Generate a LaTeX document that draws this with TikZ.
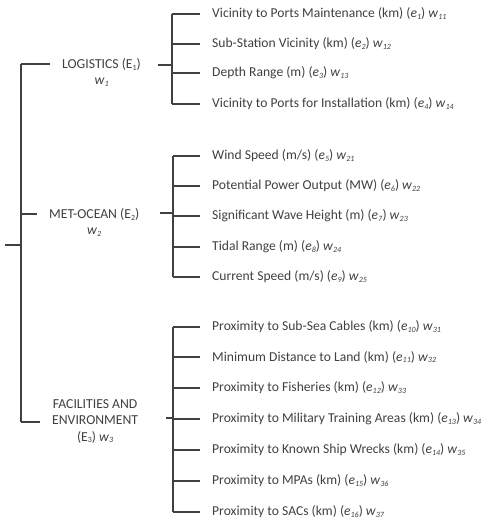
\documentclass[tikz,border=0pt]{standalone}
\usepackage{fontspec}
\setmainfont{Carlito}
\newcommand\mysb[1]{\raisebox{-1.6pt}{\fontsize{8}{8}\selectfont #1}}
\newcommand\ie[1]{(\textit{e}\mysb{\textit{#1}})}
\newcommand\iw[1]{\textit{w}\mysb{\textit{#1}}}
\definecolor{ink}{HTML}{404040}
\begin{document}
\begin{tikzpicture}[x=1pt,y=-1pt,
  conn/.style={draw=ink,line width=1.2pt},
  cat/.style={font=\fontsize{13.7}{16.5}\selectfont,text=ink,align=center,inner xsep=12pt,inner ysep=0pt},
  leaf/.style={font=\fontsize{13.6}{15}\selectfont,text=ink,anchor=west,inner xsep=12pt,inner ysep=0pt}]
\useasboundingbox (0,0) rectangle (486,519);
% root
\coordinate (r0) at (5,245);
\coordinate (r1) at (21,245);
\coordinate (rt) at (21,64);
\coordinate (rm) at (21,214);
\coordinate (rb) at (21,422);
\draw[conn] (r0) -- (r1);
\draw[conn] (rt) -- (rb);
% categories
\node[cat,anchor=west] (log) at (50,72.5) {LOGISTICS (E\mysb{1})\\\iw{1}};
\node[cat,anchor=west] (met) at (37,222.5) {MET-OCEAN (E\mysb{2})\\\iw{2}};
\node[cat,anchor=west] (fac) at (40,421) {FACILITIES AND\\ENVIRONMENT\\(E\mysb{3}) \iw{3}};
\draw[conn] (rt) -- (rt -| log.west);
\draw[conn] (rm) -- (rm -| met.west);
\draw[conn] (rb) -- (rb -| fac.west);
% group 1
\coordinate (a0) at (158,65);
\coordinate (a1) at (172,65);
\coordinate (at) at (172,14);
\coordinate (ab) at (172,104);
\draw[conn] (a0) -- (a1);
\draw[conn] (at) -- (ab);
\foreach \n/\y/\t in {1/14/{Vicinity to Ports Maintenance (km) \ie{1} \iw{11}},
  2/44/{Sub-Station Vicinity (km) \ie{2} \iw{12}},
  3/73/{Depth Range (m) \ie{3} \iw{13}},
  4/104/{Vicinity to Ports for Installation (km) \ie{4} \iw{14}}}{
  \node[leaf] (l\n) at (200,\y) {\t};
  \draw[conn] (172,\y) -- (l\n.west);
}
% group 2
\coordinate (b0) at (160,213);
\coordinate (b1) at (173,213);
\coordinate (bt) at (173,156);
\coordinate (bb) at (173,277);
\draw[conn] (b0) -- (b1);
\draw[conn] (bt) -- (bb);
\foreach \n/\y/\t in {5/156/{Wind Speed (m/s) \ie{5} \iw{21}},
  6/186/{Potential Power Output (MW) \ie{6} \iw{22}},
  7/216/{Significant Wave Height (m) \ie{7} \iw{23}},
  8/247/{Tidal Range (m) \ie{8} \iw{24}},
  9/277/{Current Speed (m/s) \ie{9} \iw{25}}}{
  \node[leaf] (l\n) at (200,\y) {\t};
  \draw[conn] (173,\y) -- (l\n.west);
}
% group 3
\coordinate (c0) at (166,418);
\coordinate (c1) at (173,418);
\coordinate (ct) at (173,327);
\coordinate (cb) at (173,512);
\draw[conn] (c0) -- (c1);
\draw[conn] (ct) -- (cb);
\foreach \n/\y/\t in {10/327/{Proximity to Sub-Sea Cables (km) \ie{10} \iw{31}},
  11/357/{Minimum Distance to Land (km) \ie{11} \iw{32}},
  12/388/{Proximity to Fisheries (km) \ie{12} \iw{33}},
  13/419/{Proximity to Military Training Areas (km) \ie{13} \iw{34}},
  14/450/{Proximity to Known Ship Wrecks (km) \ie{14} \iw{35}},
  15/481/{Proximity to MPAs (km) \ie{15} \iw{36}},
  16/512/{Proximity to SACs (km) \ie{16} \iw{37}}}{
  \node[leaf] (l\n) at (200,\y) {\t};
  \draw[conn] (173,\y) -- (l\n.west);
}
\end{tikzpicture}
\end{document}
